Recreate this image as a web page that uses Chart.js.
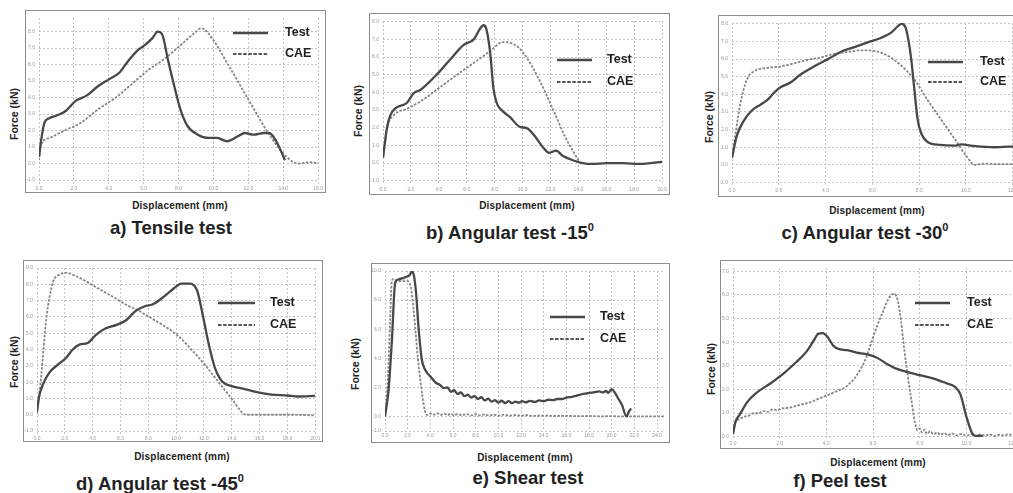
<!DOCTYPE html>
<html>
<head>
<meta charset="utf-8">
<script src="https://cdn.jsdelivr.net/npm/chart.js@4/dist/chart.umd.min.js"></script>
<style>
  body { margin: 0; width: 1013px; height: 493px; overflow: hidden; background: #fff; position: relative;
         font-family: "Liberation Sans", Arial, sans-serif; }
  .marco { position: absolute; border: 1px solid #8c8c8c; }
  .texto { position: absolute; white-space: nowrap; color: #222; line-height: 1; }
  .eje-x { font-size: 10px; font-weight: bold; letter-spacing: 0.2px; transform: translate(-50%, -50%); }
  .eje-y { font-size: 10.5px; font-weight: bold; transform: translate(-50%, -50%) rotate(-90deg); }
  .titulo { font-size: 18.5px; font-weight: bold; transform: translate(-50%, 0); }
  .titulo sup { font-size: 11px; vertical-align: 8px; line-height: 0; }
</style>
</head>
<body>
<script>
// Curvas fuerza-desplazamiento [desplazamiento mm, fuerza kN]
const tensileTest = [[0,0.4],[0.15,1.6],[0.32,2.5],[0.6,2.75],[0.98,2.9],[1.55,3.2],[2.1,3.8],[2.7,4.1],[3.4,4.7],[4.0,5.1],[4.6,5.5],[5.1,6.2],[5.7,6.9],[6.1,7.2],[6.5,7.6],[6.8,8.0],[7.05,7.85],[7.4,6.25],[7.8,4.5],[8.1,3.3],[8.5,2.3],[9.1,1.75],[9.7,1.55],[10.2,1.55],[10.8,1.35],[11.4,1.65],[11.8,1.85],[12.3,1.75],[12.9,1.85],[13.2,1.85],[13.6,1.35],[14.1,0.2]];
const tensileCAE = [[0,0.2],[0.13,1.15],[0.6,1.55],[1.55,2.05],[2.3,2.4],[3.4,3.3],[4.4,4.0],[5.3,4.8],[6.3,5.7],[7.2,6.35],[8.2,7.25],[8.9,7.9],[9.3,8.2],[9.7,7.9],[11.0,5.7],[12.1,3.7],[13.2,1.75],[14.2,0.4],[14.85,0],[15.5,0.08],[16,0]];

const ang15Test = [[0,0.3],[0.29,2.0],[0.52,2.7],[0.88,3.1],[1.7,3.4],[2.2,3.95],[2.7,4.15],[3.9,5.05],[4.8,5.85],[5.8,6.7],[6.5,7.0],[6.95,7.6],[7.2,7.8],[7.4,7.6],[7.7,6.1],[7.9,4.3],[8.15,3.4],[8.4,3.07],[9.1,2.6],[9.8,2.05],[10.3,1.98],[10.8,1.6],[11.5,0.85],[11.9,0.58],[12.4,0.7],[12.9,0.4],[13.6,0.16],[14.3,0],[15.0,-0.05],[16,0],[17.2,0],[18.4,-0.05],[20,0.07]];
const ang15CAE = [[0,0.3],[0.29,2.0],[0.76,2.7],[1.7,3.07],[2.7,3.5],[4.1,4.3],[5.3,5.0],[6.5,5.67],[7.7,6.35],[8.6,6.85],[9.3,6.75],[10.0,6.3],[11.2,4.7],[12.2,3.0],[13.1,1.4],[13.9,0.3],[14.1,0]];

const ang30Test = [[0,0.4],[0.21,1.67],[0.5,2.5],[0.86,3.1],[1.2,3.4],[1.5,3.67],[1.8,4.1],[2.07,4.4],[2.5,4.67],[2.9,5.1],[3.5,5.58],[4.1,6.0],[4.64,6.4],[5.2,6.67],[5.8,6.95],[6.36,7.2],[6.8,7.5],[7.07,7.85],[7.24,8.0],[7.4,7.85],[7.64,6.2],[7.8,4.2],[7.93,2.6],[8.07,1.85],[8.36,1.3],[8.9,1.13],[9.5,1.09],[9.8,1.16],[10.36,1.07],[11.2,1.0],[12.1,1.05]];
const ang30CAE = [[0,0.4],[0.14,1.67],[0.36,3.5],[0.64,4.85],[0.93,5.3],[1.5,5.5],[2.07,5.58],[2.64,5.76],[3.2,5.95],[3.8,6.1],[4.36,6.3],[4.93,6.4],[5.5,6.5],[6.07,6.47],[6.64,6.2],[7.2,5.67],[7.79,4.85],[8.36,3.67],[8.93,2.58],[9.5,1.5],[10.07,0.4],[10.36,0],[10.8,0.07],[11.36,0.04],[12.1,0.04]];

const ang45Test = [[0,0.2],[0.14,1.08],[0.43,1.86],[0.9,2.6],[1.4,3.0],[2.1,3.5],[2.57,4.0],[3.05,4.3],[3.64,4.4],[4.24,4.9],[4.95,5.3],[5.67,5.5],[6.38,5.78],[7.1,6.37],[7.8,6.67],[8.3,6.76],[9.0,7.16],[9.7,7.65],[10.4,8.04],[11.0,8.04],[11.5,7.65],[11.86,6.37],[12.33,4.4],[12.8,2.86],[13.3,2.06],[14.0,1.76],[14.95,1.57],[15.9,1.37],[16.86,1.24],[18.0,1.18],[18.76,1.12],[20,1.16]];
const ang45CAE = [[0,0.1],[0.14,1.0],[0.3,2.35],[0.67,5.9],[1.14,8.1],[1.62,8.6],[2.1,8.7],[2.8,8.5],[3.5,8.2],[4.5,7.7],[5.43,7.25],[6.38,6.76],[7.33,6.37],[8.3,5.88],[9.24,5.4],[10.2,4.8],[11.1,4.0],[12.1,3.04],[13.0,2.06],[14.0,0.98],[14.8,0.1],[15.05,0],[16.4,0],[18.3,0],[20,-0.04]];

const shearTest = [[0,0],[0.3,1.7],[0.6,5.1],[0.9,9.2],[1.3,9.45],[1.9,9.6],[2.2,9.75],[2.35,9.95],[2.55,9.7],[2.75,8.4],[2.95,6.2],[3.25,3.9],[3.55,3.2],[4.0,2.75],[4.5,2.3],[4.8,2.2],[5.2,1.95],[5.5,2.0],[5.8,1.7],[6.1,1.8],[6.4,1.55],[6.7,1.65],[7.0,1.4],[7.3,1.5],[7.6,1.3],[7.9,1.4],[8.2,1.2],[8.5,1.32],[8.8,1.1],[9.1,1.22],[9.4,1.02],[9.7,1.12],[10.0,0.95],[10.3,1.08],[10.6,0.92],[10.9,1.05],[11.2,0.92],[11.5,1.02],[11.8,0.95],[12.1,1.05],[12.4,0.97],[12.8,1.07],[13.2,1.0],[13.6,1.1],[14.0,1.05],[14.4,1.15],[14.8,1.12],[15.2,1.2],[15.6,1.2],[16.0,1.3],[16.5,1.35],[17.0,1.45],[17.5,1.55],[18.0,1.62],[18.5,1.68],[18.9,1.72],[19.2,1.65],[19.5,1.75],[19.7,1.62],[20.0,1.88],[20.3,1.6],[20.6,1.2],[20.9,0.8],[21.3,0],[21.5,0.3],[21.7,0.55]];
const shearCAE = [[0,0],[0.25,2.5],[0.45,6.5],[0.6,9.3],[0.75,9.45],[1.0,9.35],[1.5,9.3],[2.0,9.3],[2.3,8.8],[2.5,7.5],[2.7,5.8],[2.9,4.0],[3.1,2.6],[3.3,1.4],[3.5,0.45],[3.7,0.1],[4.0,0.2],[4.3,0.12],[4.6,0.22],[4.9,0.1],[5.2,0.2],[5.5,0.1],[5.8,0.18],[6.1,0.08],[6.4,0.17],[6.8,0.08],[7.2,0.16],[7.6,0.07],[8.0,0.15],[8.4,0.07],[8.8,0.14],[9.2,0.06],[9.6,0.13],[10.0,0.06],[10.5,0.12],[11.0,0.05],[11.5,0.1],[12,0.05],[12.5,0.09],[13,0.04],[14,0.06],[15,0.03],[16,0.04],[17,0.02],[18,0.03],[19,0.01],[20,0.02],[21,0],[22,0.01],[23,0],[24,0.01],[24.7,0]];

const peelTest = [[0,0.1],[0.1,0.6],[0.3,0.95],[0.6,1.45],[1.0,1.85],[1.6,2.25],[2.2,2.7],[2.7,3.15],[3.15,3.6],[3.45,4.05],[3.65,4.35],[3.85,4.38],[4.05,4.22],[4.3,3.85],[4.5,3.72],[4.9,3.66],[5.3,3.56],[5.75,3.48],[6.15,3.35],[6.6,3.08],[7.0,2.88],[7.45,2.74],[8.0,2.6],[8.6,2.46],[9.15,2.26],[9.5,2.12],[9.75,1.78],[10.0,0.85],[10.25,0.14],[10.4,0.03],[10.7,0.03]];
const peelCAE = [[0,0.4],[0.1,0.62],[0.3,0.75],[0.5,0.85],[0.7,0.9],[0.9,1.0],[1.1,0.98],[1.3,1.08],[1.5,1.05],[1.7,1.15],[1.9,1.12],[2.1,1.2],[2.4,1.22],[2.7,1.3],[3.0,1.38],[3.3,1.45],[3.6,1.58],[3.9,1.7],[4.2,1.82],[4.5,1.95],[4.8,2.08],[5.0,2.25],[5.2,2.45],[5.4,2.75],[5.6,3.1],[5.8,3.6],[6.0,4.2],[6.2,4.75],[6.45,5.35],[6.7,5.9],[6.9,6.05],[7.05,5.8],[7.2,4.9],[7.35,3.6],[7.5,2.5],[7.65,1.5],[7.8,0.6],[7.9,0.27],[8.0,0.35],[8.1,0.18],[8.2,0.3],[8.3,0.12],[8.45,0.22],[8.6,0.1],[8.75,0.18],[8.9,0.08],[9.05,0.15],[9.2,0.06],[9.4,0.13],[9.6,0.05],[9.8,0.12],[10.0,0.04],[10.2,0.1],[10.4,0.03],[10.6,0.09],[10.8,0.04],[11.0,0.1],[11.2,0.03],[11.4,0.08],[11.6,0.05],[11.8,0.1],[12.0,0.06],[12.2,0.08]];

const titulos = ['a) Tensile test', 'b) Angular test -15', 'c) Angular test -30', 'd) Angular test -45', 'e) Shear test', 'f) Peel test'];
const conGrado = [false, true, true, true, false, false];
const nombresSerie = ['Test', 'CAE'];

// Disposición de cada gráfico en la página (px)
// marco: borde exterior [izq, arriba, der, abajo]; area: zona de trazado
const paneles = [
  { test: tensileTest, cae: tensileCAE, marco: [25, 10, 326, 193], area: [39, 13, 322, 184],
    x: [0, 16, 2], y: [-1.24, 8.82, 1, false], ley: [233, 268, 285, 33, 54],
    ejeX: [180, 206], ejeY: [14, 114], tit: [171, 219] },
  { test: ang15Test, cae: ang15CAE, marco: [369, 13, 670, 195], area: [383, 15, 663, 185],
    x: [0, 20, 2], y: [-1.24, 8.04, 1, false], ley: [557, 592, 607, 60, 82],
    ejeX: [527, 206], ejeY: [358, 111], tit: [510, 224] },
  { test: ang30Test, cae: ang30CAE, marco: [718, 15, 1021, 197], area: [732, 16.4, 1017, 186],
    x: [0, 12.18, 2], y: [-1.2, 8.05, 1, false], ley: [928, 963, 980, 62, 82],
    ejeX: [877, 211], ejeY: [709, 117], tit: [865, 224] },
  { test: ang45Test, cae: ang45CAE, marco: [23, 260, 323, 442], area: [37, 262, 317, 435],
    x: [0, 20, 2], y: [-1.18, 9.0, 1, false], ley: [218, 255, 270, 303, 325],
    ejeX: [182, 457], ejeY: [14, 362], tit: [160, 475] },
  { test: shearTest, cae: shearCAE, marco: [371, 263, 670, 443], area: [385, 265, 665, 431],
    x: [0, 24.7, 2], y: [-1, 10, 2, true], ley: [550, 585, 600, 317, 339],
    ejeX: [525, 458], ejeY: [355, 364], tit: [528, 469] },
  { test: peelTest, cae: peelCAE, marco: [720, 260, 1021, 449], area: [733, 263, 1017, 439],
    x: [0, 12.17, 2], y: [-0.1, 7.14, 1, false], ley: [915, 950, 967, 303, 325],
    ejeX: [878, 463], ejeY: [711, 369], tit: [840, 472] }
];

const colorTest = '#484848';
const colorCAE = '#858585';

// Leyenda dentro del área de trazado, en coordenadas de página
const pluginLeyenda = {
  id: 'leyenda',
  afterDatasetsDraw(chart, args, opts) {
    if (!opts.pos) return;
    const ctx = chart.ctx;
    const [ox, oy] = opts.origen;
    const [x1, x2, xt, yT, yC] = opts.pos;
    ctx.save();
    ctx.lineWidth = 2.4;
    ctx.strokeStyle = colorTest;
    ctx.beginPath(); ctx.moveTo(x1 - ox, yT - oy); ctx.lineTo(x2 - ox, yT - oy); ctx.stroke();
    ctx.lineWidth = 2;
    ctx.strokeStyle = '#555';
    ctx.setLineDash([3.5, 1.6]);
    ctx.beginPath(); ctx.moveTo(x1 - ox, yC - oy); ctx.lineTo(x2 - ox, yC - oy); ctx.stroke();
    ctx.setLineDash([]);
    ctx.fillStyle = '#222';
    ctx.font = 'bold 12.5px "Liberation Sans", Arial, sans-serif';
    ctx.textBaseline = 'middle';
    ctx.fillText(nombresSerie[0], xt - ox, yT - oy);
    ctx.fillText(nombresSerie[1], xt - ox, yC - oy);
    ctx.restore();
  }
};

function ponerTexto(clase, html, x, y) {
  const d = document.createElement('div');
  d.className = 'texto ' + clase;
  d.innerHTML = html;
  d.style.left = x + 'px';
  d.style.top = y + 'px';
  document.body.appendChild(d);
}

function crearPanel(p, i) {
  const [ml, mt, mr, mb] = p.marco;
  const [al, at, ar, ab] = p.area;

  const marco = document.createElement('div');
  marco.className = 'marco';
  marco.style.left = ml + 'px';
  marco.style.top = mt + 'px';
  marco.style.width = (mr - ml - 2) + 'px';
  marco.style.height = (mb - mt - 2) + 'px';
  const canvas = document.createElement('canvas');
  marco.appendChild(canvas);
  document.body.appendChild(marco);

  const ox = ml + 1, oy = mt + 1;
  const anchoY = al - ox;
  const altoX = (mb - 1) - ab;

  const rejilla = { color: '#c2c2c2', lineWidth: 1, drawTicks: false };
  const borde = { display: false, dash: [2, 2] };
  const fuenteTicks = { size: 5, family: '"Liberation Sans", Arial, sans-serif' };

  new Chart(canvas, {
    type: 'scatter',
    data: {
      datasets: [
        {
          label: nombresSerie[0],
          data: p.test.map(([x, y]) => ({ x, y })),
          showLine: true,
          borderColor: colorTest,
          borderWidth: 2.3,
          pointRadius: 0,
          cubicInterpolationMode: 'monotone'
        },
        {
          label: nombresSerie[1],
          data: p.cae.map(([x, y]) => ({ x, y })),
          showLine: true,
          borderColor: colorCAE,
          borderWidth: 1.8,
          borderDash: [2.5, 1.5],
          pointRadius: 0,
          cubicInterpolationMode: 'monotone'
        }
      ]
    },
    options: {
      responsive: true,
      maintainAspectRatio: false,
      animation: false,
      layout: { padding: { top: at - oy, right: (mr - 1) - ar, left: 0, bottom: 0 } },
      plugins: {
        legend: { display: false },
        tooltip: { enabled: false },
        leyenda: { pos: p.ley, origen: [ox, oy] }
      },
      scales: {
        x: {
          type: 'linear',
          min: p.x[0],
          max: p.x[1],
          grid: rejilla,
          border: borde,
          afterFit: s => { s.height = altoX; },
          ticks: {
            stepSize: p.x[2],
            includeBounds: false,
            autoSkip: false,
            maxRotation: 0,
            padding: 2,
            color: '#999',
            font: fuenteTicks,
            callback: v => v.toFixed(1)
          }
        },
        y: {
          min: p.y[0],
          max: p.y[1],
          grid: rejilla,
          border: borde,
          afterFit: s => { s.width = anchoY; },
          ticks: {
            stepSize: p.y[2],
            includeBounds: p.y[3],
            autoSkip: false,
            padding: 4,
            color: '#999',
            font: fuenteTicks,
            callback: v => v.toFixed(1)
          }
        }
      }
    },
    plugins: [pluginLeyenda]
  });

  ponerTexto('eje-x', 'Displacement (mm)', p.ejeX[0], p.ejeX[1]);
  ponerTexto('eje-y', 'Force (kN)', p.ejeY[0], p.ejeY[1]);
  ponerTexto('titulo', titulos[i] + (conGrado[i] ? '<sup>0</sup>' : ''), p.tit[0], p.tit[1]);
}

paneles.forEach(crearPanel);
</script>
</body>
</html>
